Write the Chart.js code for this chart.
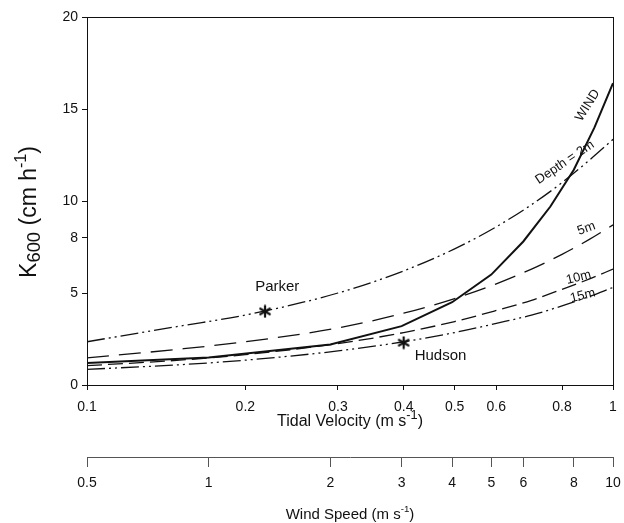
<!DOCTYPE html>
<html>
<head>
<meta charset="utf-8">
<script src="https://cdn.jsdelivr.net/npm/chart.js@4"></script>
<style>
  html, body { margin: 0; padding: 0; background: #fff; }
  #wrap { width: 624px; height: 523px; }
</style>
</head>
<body>
<div id="wrap"><canvas id="kChart" width="624" height="523"></canvas></div>
<script>
// tidal velocity (m s-1) where the depth curves were read
const tidalV = [0.1, 0.15, 0.2, 0.3, 0.4, 0.5, 0.6, 0.7, 0.8, 0.9, 1.0];
const depth2 = [2.35, 3.2, 3.8, 5.0, 6.2, 7.4, 8.6, 9.8, 11.0, 12.2, 13.35];
const depth5 = [1.47, 1.95, 2.35, 3.1, 3.9, 4.7, 5.5, 6.3, 7.1, 7.9, 8.7];
const depth10 = [1.05, 1.35, 1.65, 2.25, 2.85, 3.45, 4.05, 4.6, 5.2, 5.75, 6.3];
const depth15 = [0.85, 1.1, 1.35, 1.85, 2.35, 2.85, 3.35, 3.8, 4.3, 4.8, 5.3];

// wind curve, read at whole wind speeds (m s-1)
const windSpeed = [0.5, 1, 2, 3, 4, 5, 6, 7, 8, 9, 10];
const windK = [1.2, 1.5, 2.2, 3.2, 4.5, 6.0, 7.8, 9.7, 11.7, 14.0, 16.4];

// single estuary points
const parker = [0.218, 4.0];
const hudson = [0.4, 2.3];

// tick labels
const tidalTicks = [0.1, 0.2, 0.3, 0.4, 0.5, 0.6, 0.8, 1];
const windTicks = [0.5, 1, 2, 3, 4, 5, 6, 8, 10];
const kTicks = [0, 5, 8, 10, 15, 20];

const FONT = '"Liberation Sans", Arial, sans-serif';
const INK = '#111';

// six-armed asterisk marker
const asterisk = document.createElement('canvas');
asterisk.width = 14;
asterisk.height = 14;
(function () {
  const c = asterisk.getContext('2d');
  c.strokeStyle = INK;
  c.lineWidth = 2.2;
  c.lineCap = 'round';
  [90, 30, 150].forEach(deg => {
    const r = deg * Math.PI / 180, dx = Math.cos(r) * 5.5, dy = Math.sin(r) * 5.5;
    c.beginPath();
    c.moveTo(7 - dx, 7 - dy);
    c.lineTo(7 + dx, 7 + dy);
    c.stroke();
  });
})();

function pairs(xs, ys) {
  return xs.map((x, i) => ({ x: x, y: ys[i] }));
}

function depthLine(label, ys, dash) {
  return {
    label: label,
    data: pairs(tidalV, ys),
    xAxisID: 'x',
    borderColor: INK,
    borderWidth: 1.3,
    borderDash: dash,
    pointRadius: 0,
    cubicInterpolationMode: 'monotone',
    fill: false
  };
}

function star(label, p) {
  return {
    label: label,
    data: [{ x: p[0], y: p[1] }],
    xAxisID: 'x',
    showLine: false,
    pointStyle: asterisk,
    pointRadius: 7
  };
}

// text with sub/superscript pieces, centred on (0,0)
function richText(ctx, parts, size) {
  let w = 0;
  parts.forEach(p => {
    ctx.font = (size * (p.s || 1)) + 'px ' + FONT;
    p.w = ctx.measureText(p.t).width;
    w += p.w;
  });
  let x = -w / 2;
  ctx.textAlign = 'left';
  ctx.textBaseline = 'middle';
  parts.forEach(p => {
    ctx.font = (size * (p.s || 1)) + 'px ' + FONT;
    ctx.fillText(p.t, x, (p.dy || 0) * size);
    x += p.w;
  });
}

const annotate = {
  id: 'annotate',
  afterDraw(chart) {
    const ctx = chart.ctx;
    const a = chart.chartArea;
    const xs = chart.scales.x, ys = chart.scales.y;
    ctx.save();
    // frame
    ctx.strokeStyle = INK;
    ctx.lineWidth = 1;
    ctx.strokeRect(a.left + 0.5, a.top + 0.5, a.right - a.left, a.bottom - a.top);

    ctx.fillStyle = INK;
    const lab = (text, v, k, deg, size) => {
      ctx.save();
      ctx.translate(xs.getPixelForValue(v), ys.getPixelForValue(k));
      ctx.rotate(deg * Math.PI / 180);
      ctx.font = size + 'px ' + FONT;
      ctx.textAlign = 'center';
      ctx.textBaseline = 'middle';
      ctx.fillText(text, 0, 0);
      ctx.restore();
    };
    lab('Parker', 0.23, 5.35, 0, 15);
    lab('Hudson', 0.47, 1.6, 0, 15);
    lab('Depth = 2m', 0.81, 12.1, -34, 13);
    lab('WIND', 0.895, 15.2, -58, 13);
    lab('5m', 0.89, 8.5, -20, 13);
    lab('10m', 0.86, 5.85, -14, 13);
    lab('15m', 0.876, 4.85, -14, 13);

    // axis titles
    ctx.save();
    ctx.translate(30, 212);
    ctx.rotate(-Math.PI / 2);
    richText(ctx, [
      { t: 'K' },
      { t: '600', s: 0.8, dy: 0.22 },
      { t: ' (cm h' },
      { t: '-1', s: 0.7, dy: -0.35 },
      { t: ')' }
    ], 23);
    ctx.restore();

    const midX = (a.left + a.right) / 2;
    ctx.save();
    ctx.translate(midX, 422);
    richText(ctx, [
      { t: 'Tidal Velocity (m s' },
      { t: '-1', s: 0.8, dy: -0.4 },
      { t: ')' }
    ], 16);
    ctx.restore();

    ctx.save();
    ctx.translate(midX, 515);
    richText(ctx, [
      { t: 'Wind Speed (m s' },
      { t: '-1', s: 0.65, dy: -0.35 },
      { t: ')' }
    ], 15);
    ctx.restore();
    ctx.restore();
  }
};

const tickFont = { family: FONT, size: 14 };

// keep the end tick labels from shrinking the plot
function noSidePad(s) {
  s.paddingLeft = 0;
  s.paddingRight = 0;
}

const kChart = new Chart(document.getElementById('kChart'), {
  type: 'line',
  data: {
    datasets: [
      depthLine('Depth = 2m', depth2, [18, 4, 2, 4, 2, 4]),
      depthLine('5m', depth5, [22, 10]),
      depthLine('10m', depth10, [15, 6]),
      depthLine('15m', depth15, [18, 4, 2, 4, 2, 4]),
      {
        label: 'WIND',
        data: pairs(windSpeed, windK),
        xAxisID: 'wind',
        borderColor: INK,
        borderWidth: 2,
        pointRadius: 0,
        tension: 0,
        fill: false
      },
      star('Parker', parker),
      star('Hudson', hudson)
    ]
  },
  options: {
    responsive: false,
    animation: false,
    layout: { padding: { top: 17, right: 11, bottom: 6, left: 0 } },
    plugins: {
      legend: { display: false },
      tooltip: { enabled: false }
    },
    scales: {
      x: {
        type: 'logarithmic',
        position: 'bottom',
        weight: 0,
        min: 0.1,
        max: 1,
        afterBuildTicks: s => { s.ticks = tidalTicks.map(v => ({ value: v })); },
        afterFit: s => { s.height = 72; noSidePad(s); },
        ticks: { color: INK, font: tickFont, padding: 9, maxRotation: 0, autoSkip: false,
          callback: v => String(v) },
        grid: { drawOnChartArea: false, tickLength: 5, color: INK },
        border: { color: INK }
      },
      wind: {
        type: 'logarithmic',
        position: 'bottom',
        weight: 1,
        min: 0.5,
        max: 10,
        afterBuildTicks: s => { s.ticks = windTicks.map(v => ({ value: v })); },
        afterFit: s => { s.height = 60; noSidePad(s); },
        ticks: { color: INK, font: tickFont, padding: 8, maxRotation: 0, autoSkip: false,
          callback: v => String(v) },
        grid: { drawOnChartArea: false, tickLength: 10, color: '#555' },
        border: { color: '#555' }
      },
      y: {
        type: 'linear',
        min: 0,
        max: 20,
        afterBuildTicks: s => { s.ticks = kTicks.map(v => ({ value: v })); },
        afterFit: s => { s.width = 87; },
        ticks: { color: INK, font: tickFont, padding: 4 },
        grid: { drawOnChartArea: false, tickLength: 5, color: INK },
        border: { color: INK }
      }
    }
  },
  plugins: [annotate]
});
</script>
</body>
</html>
